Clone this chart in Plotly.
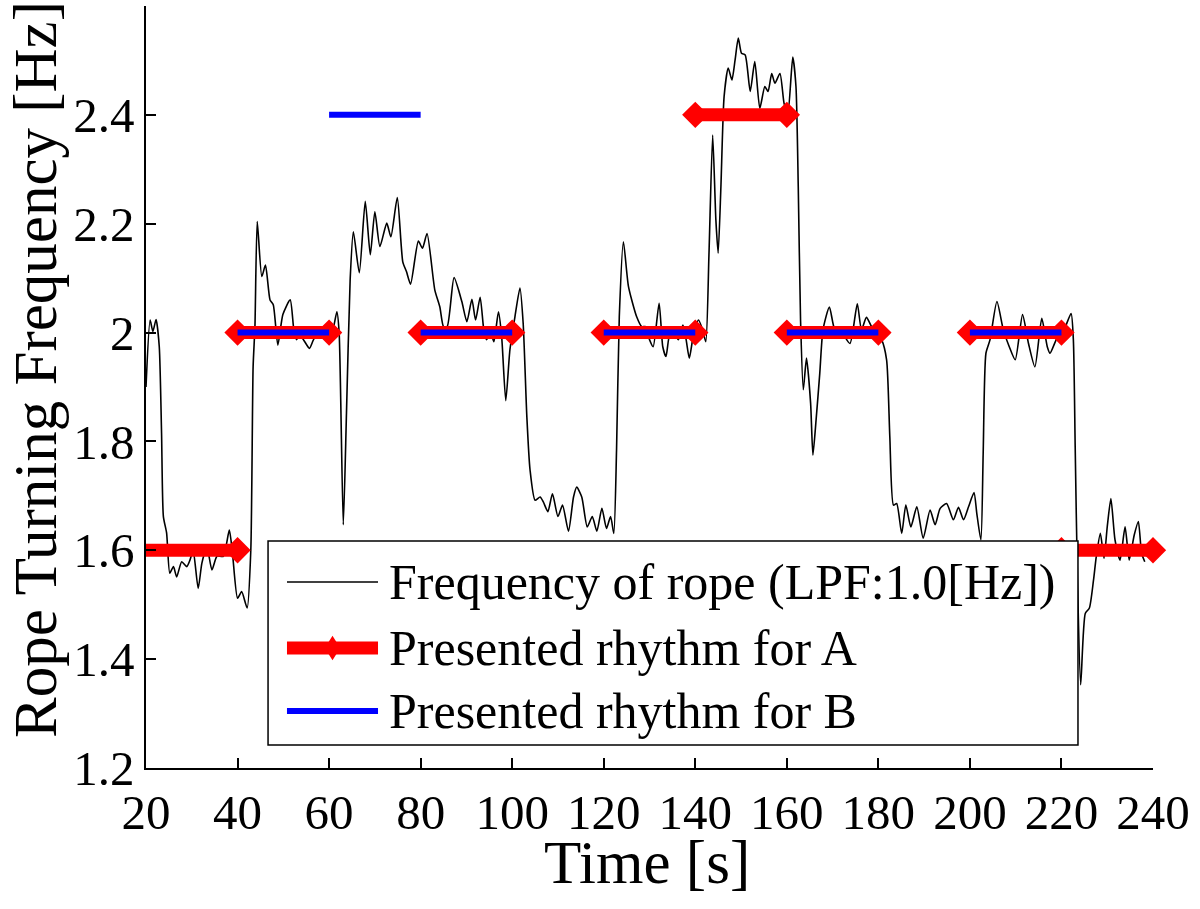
import plotly.graph_objects as go

# ---- data ----
time_s = [20.0, 20.9, 21.5, 22.2, 22.9, 23.4, 23.8, 24.5, 25.2, 26.0, 26.7, 27.8, 28.9, 29.6, 30.3,
          31.4, 32.2, 33.3, 34.4, 35.5, 36.9, 38.2, 38.9, 40.0, 40.9, 42.1, 42.9, 43.4, 43.8, 44.3,
          45.3, 46.1, 47.1, 47.8, 48.8, 49.9, 51.5, 52.3, 52.9, 53.5, 54.4, 55.7, 56.5, 57.5, 58.5,
          59.5, 60.5, 61.7, 62.2, 63.1, 63.8, 64.6, 65.3, 66.6, 67.9, 69.0, 70.0, 71.1, 72.6, 73.5,
          74.9, 76.1, 76.9, 77.8, 79.5, 80.4, 81.4, 83.1, 84.2, 85.0, 85.8, 87.3, 89.0, 90.1, 91.2,
          92.0, 93.0, 93.8, 94.4, 95.3, 96.0, 97.0, 97.7, 98.6, 99.5, 100.6, 101.7, 102.4, 103.2,
          103.9, 105.0, 106.1, 106.8, 107.8, 108.8, 110.0, 111.0, 112.3, 113.4, 114.1, 115.2, 116.4,
          117.5, 118.5, 119.6, 120.6, 121.5, 122.2, 122.8, 123.4, 124.3, 125.4, 127.2, 128.3, 129.2,
          130.0, 130.8, 132.1, 132.9, 133.6, 134.5, 135.6, 136.3, 137.3, 138.0, 138.7, 139.6, 140.7,
          141.6, 142.3, 143.0, 143.8, 144.5, 145.0, 145.6, 146.3, 147.2, 148.0, 148.7, 149.4, 150.1,
          150.9, 152.0, 153.0, 154.1, 155.2, 155.9, 156.7, 157.4, 158.5, 159.4, 160.2, 161.3, 162.0,
          162.5, 163.0, 163.6, 164.3, 165.2, 165.7, 166.4, 167.2, 167.9, 169.3, 170.5, 172.0, 173.8,
          175.4, 176.3, 177.4, 178.5, 180.7, 181.8, 182.5, 183.3, 184.0, 185.1, 186.0, 187.1, 188.4,
          189.8, 191.3, 192.4, 193.5, 194.9, 196.4, 197.5, 198.6, 199.7, 200.9, 201.5, 202.4, 202.9,
          203.5, 204.4, 205.9, 207.3, 208.6, 209.9, 211.5, 212.8, 214.2, 215.7, 216.9, 217.5, 219.2,
          220.3, 222.1, 222.6, 223.0, 223.5, 224.2, 225.2, 226.1, 227.0, 227.6, 228.5, 229.3, 230.0,
          230.8, 231.7, 232.8, 233.9, 234.8, 235.9, 236.8, 237.5, 238.2]
rope_freq = [1.90, 2.023, 2.002, 2.024, 1.974, 1.815, 1.662, 1.632, 1.558, 1.570, 1.551, 1.579, 1.570,
             1.582, 1.600, 1.530, 1.576, 1.607, 1.564, 1.589, 1.589, 1.637, 1.594, 1.512, 1.524, 1.494,
             1.601, 1.937, 2.011, 2.204, 2.103, 2.124, 2.060, 2.051, 1.977, 2.033, 2.060, 2.005, 1.987,
             1.996, 1.987, 1.971, 1.985, 2.000, 1.990, 2.005, 1.995, 2.038, 1.999, 1.647, 1.852, 2.097,
             2.185, 2.110, 2.241, 2.143, 2.222, 2.158, 2.201, 2.176, 2.248, 2.130, 2.112, 2.089, 2.168,
             2.155, 2.182, 2.078, 2.047, 2.011, 2.011, 2.101, 2.057, 2.020, 2.061, 2.023, 2.065, 2.005,
             1.987, 2.000, 1.983, 2.038, 1.993, 1.875, 1.968, 2.029, 2.082, 2.017, 1.846, 1.748, 1.692,
             1.698, 1.689, 1.671, 1.704, 1.662, 1.683, 1.635, 1.698, 1.716, 1.698, 1.643, 1.662, 1.635,
             1.677, 1.640, 1.662, 1.631, 1.784, 2.029, 2.167, 2.085, 2.029, 2.011, 2.011, 1.987, 1.974,
             2.054, 1.974, 1.956, 1.999, 1.996, 1.987, 2.014, 1.987, 1.953, 1.996, 2.023, 2.005, 1.983,
             2.146, 2.363, 2.207, 2.146, 2.268, 2.434, 2.486, 2.464, 2.501, 2.541, 2.513, 2.510, 2.443,
             2.498, 2.412, 2.452, 2.443, 2.476, 2.458, 2.476, 2.421, 2.400, 2.506, 2.452, 2.268, 2.023,
             1.895, 1.953, 1.870, 1.775, 1.840, 1.925, 2.005, 2.047, 2.005, 2.000, 1.980, 2.053, 2.005,
             2.028, 2.011, 1.987, 1.950, 1.809, 1.683, 1.686, 1.631, 1.683, 1.643, 1.680, 1.622, 1.674,
             1.647, 1.677, 1.686, 1.656, 1.679, 1.656, 1.680, 1.706, 1.668, 1.619, 1.778, 1.962, 1.987,
             2.057, 2.005, 1.974, 1.950, 2.033, 1.980, 1.937, 2.026, 1.974, 1.962, 1.993, 2.000, 2.035,
             1.987, 1.790, 1.545, 1.353, 1.484, 1.494, 1.545, 1.588, 1.631, 1.585, 1.643, 1.695, 1.619,
             1.582, 1.643, 1.582, 1.628, 1.653, 1.595, 1.579]

# presented rhythm segments (start, end, frequency)
a_start = [20, 40, 80, 120, 140, 160, 200, 220]
a_end = [40, 60, 100, 140, 160, 180, 220, 240]
a_level = [1.6, 2.0, 2.0, 2.0, 2.4, 2.0, 2.0, 1.6]

b_start = [40, 60, 80, 120, 160, 200]
b_end = [60, 80, 100, 140, 180, 220]
b_level = [2.0, 2.4, 2.0, 2.0, 2.0, 2.0]

x_ticks = [20, 40, 60, 80, 100, 120, 140, 160, 180, 200, 220, 240]
y_ticks = [1.2, 1.4, 1.6, 1.8, 2.0, 2.2, 2.4]
y_ticktext = ["1.2", "1.4", "1.6", "1.8", "2", "2.2", "2.4"]

legend_labels = ["Frequency of rope (LPF:1.0[Hz])", "Presented rhythm for A", "Presented rhythm for B"]
x_title = "Time [s]"
y_title = "Rope Turning Frequency [Hz]"

FONT = "Liberation Serif"
X_MIN, X_MAX = 20, 240


def segments(starts, ends, levels):
    xs, ys = [], []
    for s, e, v in zip(starts, ends, levels):
        xs += [s, e, None]
        ys += [v, v, None]
    return xs, ys


ax, ay = segments(a_start, a_end, a_level)
bx, by = segments(b_start, b_end, b_level)
a_msize = [0 if (x is None or x <= X_MIN) else 17 for x in ax]

fig = go.Figure()
fig.add_trace(go.Scatter(x=time_s, y=rope_freq, mode="lines",
                         line=dict(color="black", width=1.6, shape="spline", smoothing=0.6),
                         name=legend_labels[0], showlegend=False))
fig.add_trace(go.Scatter(x=ax, y=ay, mode="lines+markers",
                         line=dict(color="#ff0000", width=13),
                         marker=dict(symbol="diamond", size=a_msize, color="#ff0000", opacity=1,
                                     line=dict(color="#ff0000", width=3)),
                         name=legend_labels[1], showlegend=False, cliponaxis=False,
                         connectgaps=False))
fig.add_trace(go.Scatter(x=bx, y=by, mode="lines",
                         line=dict(color="#0000ff", width=6),
                         name=legend_labels[2], showlegend=False, cliponaxis=False,
                         connectgaps=False))

# ---- custom legend (paper coordinates) ----
L_X0, L_X1, L_Y0, L_Y1 = 0.1212, 0.9255, 0.0302, 0.2979
row_y = [0.2441, 0.1575, 0.0748]
sym_x0, sym_x1, txt_x = 0.1400, 0.2304, 0.2393
shapes = [dict(type="rect", xref="paper", yref="paper", x0=L_X0, x1=L_X1, y0=L_Y0, y1=L_Y1,
               line=dict(color="black", width=1.5), fillcolor="white", layer="above")]
shapes.append(dict(type="line", xref="paper", yref="paper", x0=sym_x0, x1=sym_x1,
                   y0=row_y[0], y1=row_y[0], line=dict(color="black", width=1.6), layer="above"))
shapes.append(dict(type="line", xref="paper", yref="paper", x0=sym_x0, x1=sym_x1,
                   y0=row_y[1], y1=row_y[1], line=dict(color="#ff0000", width=13), layer="above"))
cx = (sym_x0 + sym_x1) / 2
dxp, dyp = 0.0065, 0.0135
shapes.append(dict(type="path", xref="paper", yref="paper",
                   path=f"M{cx - dxp},{row_y[1]} L{cx},{row_y[1] + dyp} L{cx + dxp},{row_y[1]} L{cx},{row_y[1] - dyp} Z",
                   fillcolor="#ff0000", line=dict(color="#ff0000", width=2), layer="above"))
shapes.append(dict(type="line", xref="paper", yref="paper", x0=sym_x0, x1=sym_x1,
                   y0=row_y[2], y1=row_y[2], line=dict(color="#0000ff", width=6), layer="above"))

annotations = [dict(text=t, x=txt_x, y=yy, xref="paper", yref="paper", xanchor="left",
                    yanchor="middle", showarrow=False, font=dict(family=FONT, size=50, color="black"))
               for t, yy in zip(legend_labels, row_y)]
# axis titles
annotations.append(dict(text=x_title, x=0.4975, y=-0.124, xref="paper", yref="paper",
                        xanchor="center", yanchor="middle", showarrow=False,
                        font=dict(family=FONT, size=61, color="black")))
annotations.append(dict(text=y_title, x=-0.1102, y=0.5223, xref="paper", yref="paper",
                        xanchor="center", yanchor="middle", showarrow=False, textangle=-90,
                        font=dict(family=FONT, size=61, color="black")))

fig.update_layout(
    width=1200, height=909, autosize=False,
    margin=dict(l=146, r=47, t=6, b=141, pad=0, autoexpand=False),
    paper_bgcolor="white", plot_bgcolor="white",
    font=dict(family=FONT, color="black"),
    shapes=shapes, annotations=annotations, showlegend=False,
)
fig.update_xaxes(range=[X_MIN, X_MAX], tickvals=x_ticks, ticks="inside", ticklen=10, tickwidth=1.5,
                 tickcolor="black", showline=True, linecolor="black", linewidth=1.5, mirror=False,
                 showgrid=False, zeroline=False, tickfont=dict(family=FONT, size=49),
                 ticklabelstandoff=0)
fig.update_yaxes(range=[1.2, 2.6], tickvals=y_ticks, ticktext=y_ticktext, ticks="inside", ticklen=10,
                 tickwidth=1.5, tickcolor="black", showline=True, linecolor="black", linewidth=1.5,
                 mirror=False, showgrid=False, zeroline=False, tickfont=dict(family=FONT, size=49))

fig.write_html("out.html", config={"displayModeBar": False},
               post_script="document.body.style.margin='0';")
